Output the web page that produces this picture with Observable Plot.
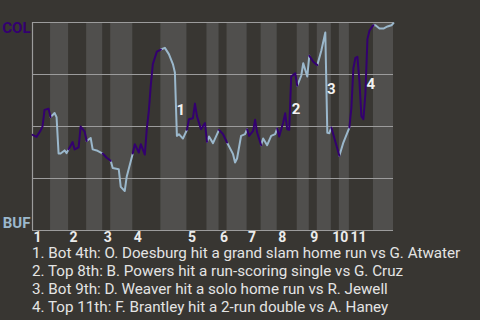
<!DOCTYPE html>
<html>
<head>
<meta charset="utf-8">
<script src="https://cdn.jsdelivr.net/npm/d3@7"></script>
<script src="https://cdn.jsdelivr.net/npm/@observablehq/plot@0.6"></script>
<style>
  html, body { margin: 0; padding: 0; background: #383632; width: 480px; height: 320px; overflow: hidden; }
  #caption { font-family: Roboto, sans-serif; font-size: 15.2px; line-height: 18px; color: #e4e4e4; padding-left: 32px; white-space: nowrap; }
</style>
</head>
<body>
<div id="chart"></div>
<div id="caption"></div>
<script>
// play index along the game (0..180) and win probability for COL
const play = [0,2,4,5,6,8,9,11,12,13,14,16,17,18,20,21,23,24,26,27,29,30,32,35,37,39,40,43,44,46,47,50,51,53,54,56,57,58,59,60,62,64,66,68,70,71,72,73,75,77,78,80,81,82,84,86,87,88,90,93,95,97,100,101,102,104,106,107,108,110,111,112,114,115,117,119,121,122,123,125,126,127,128,129,131,132,134,135,137,138,140,142,144,146,147,148,149,153,155,158,159,160,161,162,163,164,165,166,167,168,169,170,171,173,175,177,179,180];
const winProb = [0.46,0.45,0.48,0.50,0.58,0.585,0.545,0.565,0.545,0.37,0.37,0.385,0.372,0.39,0.425,0.39,0.40,0.50,0.475,0.43,0.445,0.39,0.385,0.37,0.35,0.335,0.30,0.295,0.21,0.19,0.26,0.37,0.415,0.375,0.415,0.365,0.49,0.575,0.70,0.80,0.86,0.87,0.878,0.848,0.80,0.76,0.455,0.463,0.442,0.484,0.535,0.54,0.61,0.55,0.487,0.516,0.426,0.452,0.42,0.484,0.463,0.423,0.367,0.327,0.346,0.455,0.463,0.487,0.455,0.479,0.532,0.471,0.41,0.442,0.41,0.455,0.463,0.49,0.452,0.519,0.564,0.487,0.484,0.74,0.756,0.696,0.744,0.804,0.74,0.84,0.811,0.795,0.864,0.952,0.47,0.468,0.495,0.359,0.423,0.495,0.59,0.78,0.83,0.835,0.72,0.55,0.535,0.66,0.92,0.96,0.975,0.987,0.987,0.971,0.971,0.981,0.987,0.997];
// play index where each half-inning starts (top 1st, bottom 1st, ...) and the end of the game
const halfStarts = [0,9,18,27,35,39,50,64,77,87,93,97,107,114,122,132,138,142,149,153,158,170];
const gameEnd = 180;
const inningLabels = ["1","2","3","4","5","6","7","8","9","10","11"];
// key plays
const keyNums = ["1","2","3","4"];
const keyPlay = [74,131.4,149,168.7];
const keyProb = [0.577,0.581,0.679,0.703];
const keyText = [
  "Bot 4th: O. Doesburg hit a grand slam home run vs G. Atwater",
  "Top 8th: B. Powers hit a run-scoring single vs G. Cruz",
  "Bot 9th: D. Weaver hit a solo home run vs R. Jewell",
  "Top 11th: F. Brantley hit a 2-run double vs A. Haney"
];
const teams = ["COL","BUF"];

const COL_C = "#33006f";
const BUF_C = "#9bb8cc";
const BG = "#383632";
const BAND = "#504f4d";
const GRID = "#9c9c9c";

const halves = halfStarts.map((s, i) => ({s, e: i + 1 < halfStarts.length ? halfStarts[i + 1] : gameEnd, top: i % 2 === 0, h: i}));
const points = play.map((u, i) => ({u, p: winProb[i]}));
const rows = [];
for (const hv of halves) {
  for (const pt of points) if (pt.u >= hv.s && pt.u <= hv.e) rows.push({...pt, h: hv.h, top: hv.top});
}
const innings = inningLabels.map((label, i) => ({label, x: halfStarts[2 * i]}));
const keys = keyNums.map((n, i) => ({n, u: keyPlay[i], p: keyProb[i]}));

const chart = Plot.plot({
  width: 480,
  height: 244,
  marginTop: 22,
  marginLeft: 32,
  marginRight: 87,
  marginBottom: 14,
  x: {domain: [0, gameEnd], axis: null},
  y: {domain: [0, 1], axis: null},
  style: {background: BG, fontFamily: "Roboto, sans-serif", overflow: "visible"},
  marks: [
    Plot.rect(halves.filter(d => !d.top), {x1: "s", x2: "e", fill: BAND}),
    Plot.ruleY([0, 0.25, 0.5, 0.75, 1], {stroke: GRID, strokeWidth: 1.2}),
    Plot.ruleX([0], {stroke: GRID, strokeWidth: 1.2}),
    Plot.line(rows.filter(d => !d.top), {x: "u", y: "p", z: "h", stroke: BUF_C, strokeWidth: 2}),
    Plot.line(rows.filter(d => d.top), {x: "u", y: "p", z: "h", stroke: COL_C, strokeWidth: 2}),
    Plot.text(keys, {x: "u", y: "p", text: "n", fill: "#f2f2f2", fontSize: 15, fontWeight: "bold"}),
    Plot.text(innings, {x: "x", frameAnchor: "bottom", text: "label", textAnchor: "start", lineAnchor: "top", dy: 2, dx: 1, fill: "#ececec", fontSize: 14, fontWeight: "bold"}),
    Plot.text([teams[0]], {frameAnchor: "top-left", textAnchor: "end", lineAnchor: "top", dx: -2, dy: 0, fill: COL_C, fontSize: 15, fontWeight: "bold"}),
    Plot.text([teams[1]], {frameAnchor: "bottom-left", textAnchor: "end", lineAnchor: "bottom", dx: -2, dy: -3, fill: BUF_C, fontSize: 15, fontWeight: "bold"})
  ]
});
document.getElementById("chart").appendChild(chart);
document.getElementById("caption").innerHTML = keyText.map((t, i) => `<div>${keyNums[i]}. ${t}</div>`).join("");
</script>
</body>
</html>
